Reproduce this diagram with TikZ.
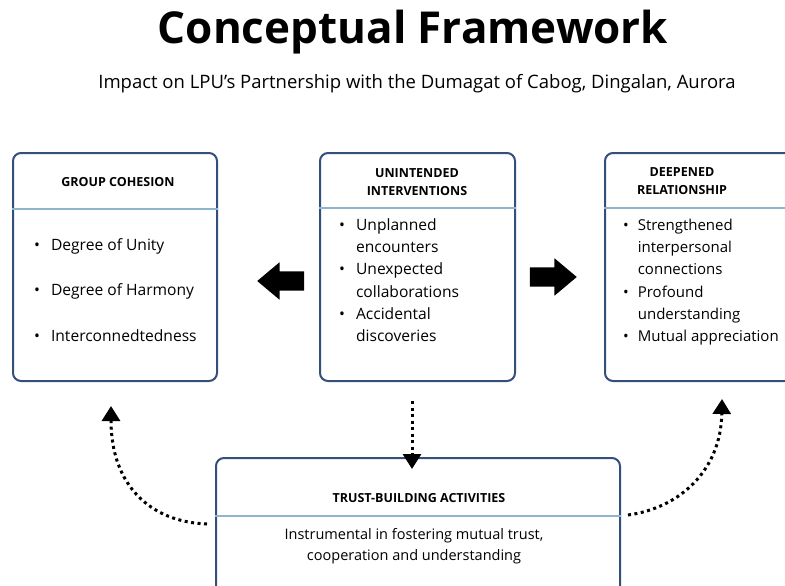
\documentclass[tikz,border=0pt]{standalone}
\usepackage{fontspec}
\setmainfont{Open Sans}
\usepackage{tikz}
\usetikzlibrary{positioning}
\usetikzlibrary{arrows.meta}
\usetikzlibrary{shapes.arrows}
\definecolor{boxblue}{HTML}{34507A}
\definecolor{ruleblue}{HTML}{8DB6CE}
\tikzset{
    box/.style = {draw=boxblue, line width=2pt, rounded corners=8pt, inner sep=0pt},
    sep/.style = {draw=ruleblue, line width=1.8pt},
    head/.style = {font=\bfseries\fontsize{12.5}{18.5}\selectfont, align=center, inner sep=0pt},
    body/.style = {font=\fontsize{15.6}{22.3}\selectfont, anchor=north west, inner sep=0pt},
    dotarrow/.style = {line width=3pt, dash pattern=on 3pt off 3.5pt, -{Triangle[width=18pt,length=15pt]}},
    blockarrow/.style = {single arrow, fill=black, inner xsep=0pt, inner ysep=9.5pt, minimum height=47pt,
        single arrow head extend=9pt, single arrow tip angle=80}
}

\begin{document}
\begin{tikzpicture}[x=1pt, y=-1pt]
    \useasboundingbox (0,0) rectangle (785,586);
    % titles
    \node [font=\bfseries\fontsize{44}{50}\selectfont] (title) at (413,32) {Conceptual Framework};
    \node [font=\fontsize{18.5}{22}\selectfont] (subtitle) at (417,84) {Impact on LPU’s Partnership with the Dumagat of Cabog, Dingalan, Aurora};
    % boxes
    \node [box, minimum width=204pt, minimum height=228pt] (cohesion) at (115,267) {};
    \node [box, minimum width=195pt, minimum height=228pt] (unint) at (417.5,267) {};
    \node [box, minimum width=205pt, minimum height=228pt] (deep) at (707.5,267) {};
    \node [box, minimum width=404pt, minimum height=162pt] (trust) at (418,539) {};
    % header rules
    \draw [sep] ([yshift=-57pt]cohesion.north west) -- ([yshift=-57pt]cohesion.north east);
    \draw [sep] ([yshift=-56pt]unint.north west) -- ([yshift=-56pt]unint.north east);
    \draw [sep] ([yshift=-56pt]deep.north west) -- ([yshift=-56pt]deep.north east);
    \draw [sep] ([yshift=-59pt]trust.north west) -- ([yshift=-59pt]trust.north east);
    % headers
    \node [head] (cohesionhead) at (118,182) {GROUP COHESION};
    \node [head] (unihead) at (417,182) {UNINTENDED\\INTERVENTIONS};
    \node [head] (deephead) at (682,181) {DEEPENED\\RELATIONSHIP};
    \node [head] (trusthead) at (419,498) {TRUST-BUILDING ACTIVITIES};
    % lists
    \node [body] (cohesionlist) at (34,234.4) {\begin{tabular}{@{}l@{\hspace{11pt}}l@{}}
        \textbullet & Degree of Unity\\[23.2pt]
        \textbullet & Degree of Harmony\\[23.2pt]
        \textbullet & Interconnedtedness
    \end{tabular}};
    \node [body] (unintlist) at (339,214.4) {\begin{tabular}{@{}l@{\hspace{11pt}}l@{}}
        \textbullet & Unplanned\\
        & encounters\\
        \textbullet & Unexpected\\
        & collaborations\\
        \textbullet & Accidental\\
        & discoveries
    \end{tabular}};
    \node [body, font=\fontsize{15}{22.3}\selectfont] (deeplist) at (623,214.4) {\begin{tabular}{@{}l@{\hspace{9pt}}l@{}}
        \textbullet & Strengthened\\
        & interpersonal\\
        & connections\\
        \textbullet & Profound\\
        & understanding\\
        \textbullet & Mutual appreciation
    \end{tabular}};
    \node [font=\fontsize{14.5}{21}\selectfont, align=center, inner sep=0pt] (trusttext) at (414,546)
        {Instrumental in fostering mutual trust,\\cooperation and understanding};
    % block arrows
    \node [blockarrow, shape border rotate=180] (leftarrow) at (286.5,281) {};
    \node [blockarrow] (rightarrow) at (547.5,277) {};
    % dotted arrows
    \coordinate (downstart) at (412,401);
    \coordinate (leftstart) at (207,524);
    \coordinate (leftend) at (111,406);
    \coordinate (rightstart) at (628,515);
    \coordinate (rightend) at (722,399);
    \draw [dotarrow] (downstart) -- ([yshift=-12pt]trust.north -| downstart);
    \draw [dotarrow] (leftstart) .. controls (150,522) and (111,485) .. (leftend);
    \draw [dotarrow] (rightstart) .. controls (680,508) and (721,470) .. (rightend);
\end{tikzpicture}
\end{document}
